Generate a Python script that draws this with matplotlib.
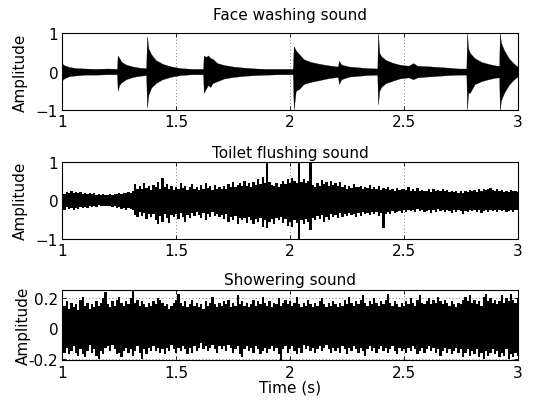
import numpy as np
import matplotlib
matplotlib.use('Agg')
import matplotlib.pyplot as plt

plt.rcParams['font.family'] = ['DejaVu Sans']
plt.rcParams['font.size'] = 11

#######################################	DATA	#################################################
# face washing: envelope breakpoints (time, upper, lower)
wash_t = [1.000, 1.010, 1.030, 1.060, 1.100, 1.150, 1.200, 1.240,
	1.243, 1.250, 1.260, 1.280, 1.310, 1.340, 1.368,
	1.372, 1.378, 1.390, 1.410, 1.440, 1.480, 1.520, 1.570, 1.618,
	1.621, 1.630, 1.640, 1.650, 1.660, 1.680, 1.710, 1.750, 1.800, 1.850, 1.900, 1.950, 2.012,
	2.016, 2.025, 2.040, 2.060, 2.090, 2.130, 2.170, 2.210,
	2.215, 2.225, 2.260, 2.300, 2.340, 2.383,
	2.386, 2.392, 2.400, 2.420, 2.450, 2.480, 2.520, 2.540, 2.560, 2.600, 2.650, 2.700, 2.740, 2.774,
	2.777, 2.782, 2.790, 2.810, 2.840, 2.870, 2.900, 2.918,
	2.921, 2.926, 2.940, 2.960, 2.980, 3.000]
wash_hi = [0.20, 0.16, 0.12, 0.09, 0.08, 0.07, 0.08, 0.07,
	0.42, 0.35, 0.25, 0.18, 0.13, 0.10, 0.09,
	0.91, 0.60, 0.45, 0.30, 0.20, 0.13, 0.09, 0.07, 0.07,
	0.42, 0.38, 0.42, 0.35, 0.33, 0.22, 0.17, 0.13, 0.10, 0.08, 0.07, 0.07, 0.07,
	0.66, 0.55, 0.45, 0.32, 0.25, 0.20, 0.16, 0.13,
	0.28, 0.18, 0.13, 0.11, 0.09, 0.08,
	1.00, 0.48, 0.40, 0.30, 0.23, 0.18, 0.15, 0.22, 0.15, 0.14, 0.12, 0.10, 0.08, 0.08,
	1.00, 0.60, 0.48, 0.35, 0.25, 0.20, 0.16, 0.15,
	1.00, 0.75, 0.55, 0.35, 0.22, 0.12]
wash_lo = [-0.22, -0.17, -0.12, -0.10, -0.08, -0.08, -0.07, -0.07,
	-0.50, -0.35, -0.28, -0.20, -0.14, -0.11, -0.09,
	-0.93, -0.60, -0.42, -0.30, -0.20, -0.13, -0.09, -0.07, -0.07,
	-0.55, -0.45, -0.35, -0.40, -0.30, -0.25, -0.18, -0.14, -0.11, -0.09, -0.08, -0.07, -0.07,
	-0.98, -0.50, -0.45, -0.32, -0.27, -0.22, -0.17, -0.14,
	-0.32, -0.20, -0.13, -0.11, -0.09, -0.08,
	-0.85, -0.50, -0.40, -0.30, -0.24, -0.18, -0.15, -0.20, -0.15, -0.13, -0.11, -0.09, -0.08, -0.08,
	-1.00, -0.55, -0.55, -0.33, -0.25, -0.20, -0.16, -0.15,
	-1.00, -0.75, -0.55, -0.35, -0.22, -0.12]

# toilet flushing & showering: envelope every 0.01 s from 1.00 to 3.00
flush_hi = [0.20, 0.17, 0.22, 0.18, 0.24, 0.19, 0.21, 0.18, 0.22, 0.17,
	0.19, 0.16, 0.20, 0.15, 0.18, 0.14, 0.16, 0.13, 0.15, 0.14,
	0.13, 0.15, 0.14, 0.17, 0.15, 0.19, 0.16, 0.20, 0.18, 0.22,
	0.19, 0.24, 0.42, 0.30, 0.36, 0.28, 0.45, 0.32, 0.38, 0.27,
	0.40, 0.33, 0.48, 0.30, 0.58, 0.34, 0.42, 0.29, 0.37, 0.26,
	0.34, 0.28, 0.45, 0.31, 0.38, 0.26, 0.33, 0.41, 0.29, 0.35,
	0.27, 0.39, 0.30, 0.44, 0.32, 0.36, 0.26, 0.40, 0.29, 0.33,
	0.30, 0.37, 0.28, 0.42, 0.35, 0.48, 0.33, 0.39, 0.45, 0.36,
	0.50, 0.38, 0.44, 0.35, 0.47, 0.40, 0.55, 0.42, 0.60, 0.45,
	1.00, 0.48, 0.40, 0.36, 0.45, 0.33, 0.41, 0.50, 0.42, 0.55,
	0.45, 0.58, 0.50, 0.44, 1.00, 0.48, 0.55, 0.44, 0.50, 0.95,
	0.40, 0.35, 0.45, 0.38, 0.52, 0.42, 0.48, 0.36, 0.50, 0.40,
	0.44, 0.38, 0.46, 0.34, 0.40, 0.30, 0.37, 0.32, 0.42, 0.35,
	0.33, 0.38, 0.29, 0.35, 0.31, 0.40, 0.28, 0.33, 0.30, 0.36,
	0.27, 0.32, 0.29, 0.34, 0.26, 0.30, 0.25, 0.31, 0.27, 0.29,
	0.30, 0.26, 0.33, 0.24, 0.28, 0.25, 0.31, 0.23, 0.27, 0.25,
	0.24, 0.28, 0.22, 0.30, 0.25, 0.27, 0.23, 0.29, 0.24, 0.26,
	0.22, 0.25, 0.21, 0.24, 0.20, 0.23, 0.19, 0.24, 0.22, 0.26,
	0.24, 0.27, 0.22, 0.28, 0.25, 0.30, 0.26, 0.29, 0.32, 0.27,
	0.25, 0.28, 0.23, 0.26, 0.21, 0.25, 0.22, 0.27, 0.23, 0.24,
	0.22]
flush_lo = [-0.20, -0.24, -0.18, -0.22, -0.19, -0.25, -0.20, -0.23, -0.18, -0.21,
	-0.17, -0.20, -0.15, -0.18, -0.14, -0.17, -0.13, -0.16, -0.15, -0.14,
	-0.16, -0.14, -0.18, -0.15, -0.20, -0.17, -0.22, -0.19, -0.24, -0.20,
	-0.22, -0.26, -0.38, -0.44, -0.30, -0.40, -0.33, -0.48, -0.35, -0.42,
	-0.36, -0.50, -0.62, -0.40, -0.55, -0.35, -0.45, -0.58, -0.38, -0.44,
	-0.36, -0.48, -0.32, -0.42, -0.55, -0.38, -0.46, -0.34, -0.40, -0.30,
	-0.38, -0.45, -0.33, -0.50, -0.36, -0.42, -0.30, -0.40, -0.35, -0.44,
	-0.38, -0.48, -0.36, -0.55, -0.42, -0.50, -0.40, -0.62, -0.45, -0.52,
	-0.46, -0.58, -0.44, -0.52, -0.62, -0.48, -0.55, -0.45, -0.70, -0.50,
	-0.72, -0.55, -0.48, -0.60, -0.45, -0.52, -0.42, -0.58, -0.48, -0.66,
	-0.55, -0.70, -0.50, -0.58, -1.00, -0.52, -0.60, -0.48, -0.55, -0.78,
	-0.45, -0.52, -0.40, -0.48, -0.38, -0.55, -0.42, -0.50, -0.36, -0.44,
	-0.38, -0.46, -0.34, -0.42, -0.36, -0.40, -0.32, -0.38, -0.35, -0.42,
	-0.33, -0.40, -0.30, -0.36, -0.32, -0.38, -0.29, -0.35, -0.31, -0.40,
	-0.34, -0.72, -0.36, -0.30, -0.35, -0.28, -0.33, -0.30, -0.27, -0.32,
	-0.26, -0.30, -0.25, -0.28, -0.24, -0.29, -0.23, -0.27, -0.25, -0.30,
	-0.28, -0.24, -0.32, -0.26, -0.29, -0.23, -0.27, -0.25, -0.30, -0.26,
	-0.28, -0.33, -0.26, -0.30, -0.24, -0.28, -0.35, -0.27, -0.30, -0.25,
	-0.28, -0.24, -0.30, -0.26, -0.33, -0.27, -0.25, -0.29, -0.24, -0.28,
	-0.26, -0.30, -0.24, -0.28, -0.25, -0.31, -0.27, -0.24, -0.29, -0.26,
	-0.25]
shower_hi = [0.22, 0.15, 0.18, 0.13, 0.17, 0.14, 0.16, 0.12, 0.19, 0.21,
	0.15, 0.17, 0.13, 0.16, 0.14, 0.18, 0.15, 0.17, 0.20, 0.24,
	0.16, 0.14, 0.18, 0.15, 0.19, 0.21, 0.17, 0.15, 0.18, 0.16,
	0.20, 0.245, 0.17, 0.19, 0.15, 0.18, 0.16, 0.14, 0.17, 0.15,
	0.18, 0.16, 0.20, 0.19, 0.17, 0.15, 0.16, 0.13, 0.15, 0.17,
	0.19, 0.23, 0.17, 0.15, 0.18, 0.14, 0.16, 0.19, 0.15, 0.17,
	0.14, 0.16, 0.13, 0.18, 0.15, 0.17, 0.21, 0.16, 0.14, 0.17,
	0.15, 0.18, 0.16, 0.19, 0.14, 0.17, 0.15, 0.22, 0.16, 0.18,
	0.15, 0.17, 0.14, 0.16, 0.19, 0.15, 0.18, 0.16, 0.21, 0.17,
	0.15, 0.18, 0.14, 0.17, 0.16, 0.20, 0.15, 0.17, 0.19, 0.16,
	0.18, 0.15, 0.17, 0.21, 0.16, 0.14, 0.17, 0.15, 0.19, 0.16,
	0.14, 0.17, 0.15, 0.18, 0.20, 0.16, 0.14, 0.17, 0.15, 0.18,
	0.16, 0.14, 0.17, 0.15, 0.19, 0.16, 0.21, 0.17, 0.15, 0.18,
	0.16, 0.19, 0.22, 0.17, 0.15, 0.18, 0.16, 0.20, 0.17, 0.15,
	0.18, 0.16, 0.19, 0.23, 0.17, 0.15, 0.18, 0.16, 0.14, 0.17,
	0.15, 0.18, 0.16, 0.20, 0.17, 0.15, 0.19, 0.22, 0.17, 0.16,
	0.18, 0.20, 0.16, 0.19, 0.17, 0.21, 0.18, 0.16, 0.19, 0.17,
	0.15, 0.18, 0.16, 0.14, 0.17, 0.16, 0.19, 0.21, 0.18, 0.22,
	0.17, 0.19, 0.16, 0.18, 0.15, 0.21, 0.23, 0.18, 0.20, 0.17,
	0.19, 0.16, 0.18, 0.22, 0.17, 0.20, 0.18, 0.23, 0.19, 0.17,
	0.20]
shower_lo = [-0.19, -0.16, -0.13, -0.17, -0.15, -0.12, -0.16, -0.18, -0.14, -0.17,
	-0.19, -0.15, -0.11, -0.16, -0.14, -0.18, -0.20, -0.15, -0.17, -0.13,
	-0.12, -0.15, -0.11, -0.14, -0.17, -0.16, -0.19, -0.15, -0.13, -0.16,
	-0.14, -0.18, -0.15, -0.12, -0.16, -0.20, -0.14, -0.17, -0.13, -0.15,
	-0.12, -0.15, -0.13, -0.16, -0.14, -0.17, -0.13, -0.15, -0.11, -0.14,
	-0.16, -0.13, -0.15, -0.12, -0.14, -0.17, -0.13, -0.16, -0.12, -0.15,
	-0.13, -0.10, -0.14, -0.12, -0.15, -0.13, -0.11, -0.14, -0.16, -0.12,
	-0.14, -0.12, -0.15, -0.11, -0.13, -0.16, -0.14, -0.12, -0.17, -0.19,
	-0.14, -0.12, -0.15, -0.13, -0.16, -0.12, -0.14, -0.17, -0.15, -0.13,
	-0.16, -0.14, -0.12, -0.15, -0.13, -0.17, -0.21, -0.14, -0.12, -0.16,
	-0.14, -0.12, -0.15, -0.17, -0.13, -0.16, -0.11, -0.14, -0.12, -0.15,
	-0.13, -0.16, -0.14, -0.12, -0.15, -0.13, -0.11, -0.14, -0.16, -0.13,
	-0.15, -0.13, -0.16, -0.12, -0.14, -0.17, -0.13, -0.15, -0.12, -0.14,
	-0.16, -0.13, -0.15, -0.18, -0.14, -0.12, -0.15, -0.13, -0.16, -0.14,
	-0.12, -0.15, -0.13, -0.16, -0.14, -0.12, -0.15, -0.17, -0.13, -0.15,
	-0.14, -0.16, -0.13, -0.15, -0.12, -0.14, -0.17, -0.15, -0.13, -0.16,
	-0.14, -0.12, -0.15, -0.13, -0.16, -0.14, -0.18, -0.15, -0.13, -0.16,
	-0.14, -0.17, -0.15, -0.13, -0.16, -0.14, -0.19, -0.16, -0.14, -0.18,
	-0.15, -0.17, -0.14, -0.19, -0.16, -0.20, -0.15, -0.18, -0.16, -0.14,
	-0.17, -0.15, -0.19, -0.16, -0.18, -0.14, -0.20, -0.17, -0.19, -0.16,
	-0.18]

titles = ['Face washing sound', 'Toilet flushing sound', 'Showering sound']
x_ticks = [1, 1.5, 2, 2.5, 3]
x_ticklabels = ['1', '1.5', '2', '2.5', '3']

#time grid of the sampled envelopes (1.00 ... 3.00, step 0.01)
t_grid = np.round(1 + 0.01 * np.arange(len(flush_hi)), 2)

#######################################	DRAW	#################################################
fig = plt.figure(figsize=(5.34, 4.10), dpi=100)

#axes rect [left, bottom, width, height] in figure fraction
rects = [[0.1167, 0.729, 0.853, 0.188],
	[0.1167, 0.4146, 0.853, 0.189],
	[0.1167, 0.1183, 0.853, 0.1727]]
pads = [10, 3, 4]

axes = [fig.add_axes(r) for r in rects]

axes[0].fill_between(wash_t, wash_lo, wash_hi, facecolor='k', edgecolor='k', lw=0.2)
#sampled envelopes drawn as thin columns, like a dense waveform
axes[1].fill_between(t_grid, flush_lo, flush_hi, step='mid', facecolor='k', lw=0)
axes[2].fill_between(t_grid, shower_lo, shower_hi, step='mid', facecolor='k', lw=0)

for i, ax in enumerate(axes):
	ax.set_xlim(1, 3)
	ax.set_xticks(x_ticks)
	ax.set_xticklabels(x_ticklabels)
	ax.set_title(titles[i], pad=pads[i], fontsize=11)
	ax.set_ylabel('Amplitude')
	ax.grid(True, linestyle=(0, (1, 3)), color='0.35', lw=0.6)
	ax.set_axisbelow(True)
	ax.tick_params(direction='in', length=3, top=True, right=True, width=0.6, pad=3)
	for s in ax.spines.values():
		s.set_linewidth(0.8)

for ax in axes[:2]:
	ax.set_ylim(-1, 1)
	ax.set_yticks([-1, 0, 1])
	ax.set_yticklabels(['\u22121', '0', '1'])
	ax.yaxis.set_label_coords(-0.076, 0.5)

axes[2].set_ylim(-0.213, 0.257)
axes[2].set_yticks([-0.2, 0, 0.2])
axes[2].set_yticklabels(['-0.2', '0', '0.2'])
axes[2].yaxis.set_label_coords(-0.068, 0.5)
axes[2].set_xlabel('Time (s)', labelpad=0)

fig.savefig('out.png', dpi=100)
